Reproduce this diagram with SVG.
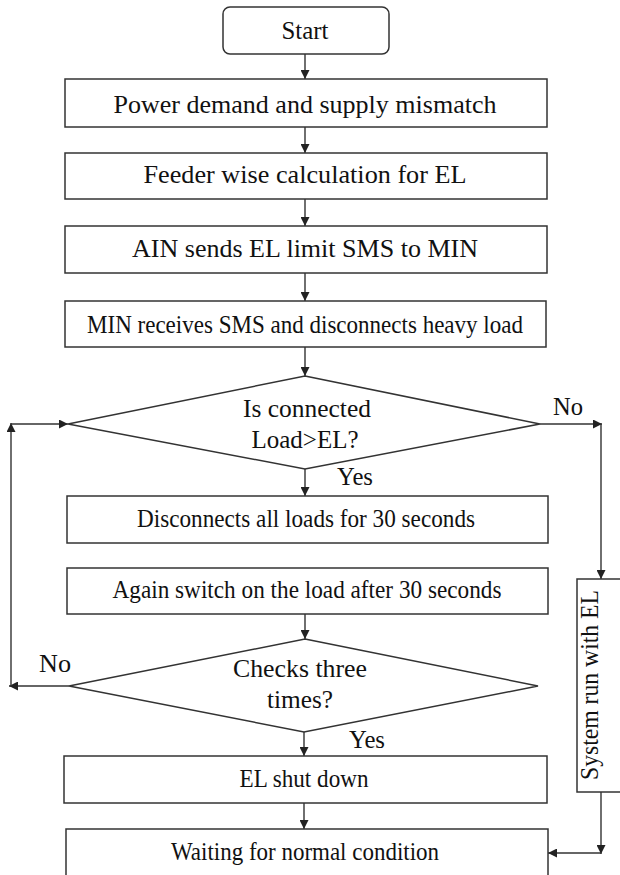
<svg xmlns="http://www.w3.org/2000/svg" width="620" height="875" viewBox="0 0 620 875">
  <style>
    .box { fill: #ffffff; stroke: #333333; stroke-width: 1.5; }
    .lbl { font-family: "Liberation Serif", "Times New Roman", serif; font-size: 26px; fill: #111111; text-anchor: middle; }
    .sm { font-size: 24px; }
    .edge { fill: none; stroke: #333333; stroke-width: 1.4; marker-end: url(#arrow); }
  </style>
  <defs>
    <marker id="arrow" viewBox="0 0 10 10" refX="10" refY="5" markerWidth="10" markerHeight="9" markerUnits="userSpaceOnUse" orient="auto">
      <path d="M0,0 L10,5 L0,10 z" fill="#222222"/>
    </marker>
  </defs>

  <rect x="0" y="0" width="620" height="875" fill="#ffffff"/>

  <g id="connectors">
    <line class="edge" x1="305" y1="54" x2="305" y2="79"/>
    <line class="edge" x1="305" y1="127" x2="305" y2="153"/>
    <line class="edge" x1="305" y1="199" x2="305" y2="226"/>
    <line class="edge" x1="305" y1="273" x2="305" y2="301"/>
    <line class="edge" x1="305" y1="347" x2="305" y2="376"/>
    <line class="edge" x1="305" y1="469" x2="305" y2="496"/>
    <line class="edge" x1="305" y1="614" x2="305" y2="639"/>
    <line class="edge" x1="304" y1="732" x2="304" y2="756"/>
    <line class="edge" x1="304" y1="803" x2="304" y2="829"/>
    <!-- "No" branch to the right column -->
    <line class="edge" x1="540" y1="424" x2="602" y2="424"/>
    <line class="edge" x1="601" y1="424" x2="601" y2="579"/>
    <line class="edge" x1="601" y1="792" x2="601" y2="854"/>
    <line class="edge" x1="601" y1="853" x2="548" y2="853"/>
    <!-- "No" loop back on the left -->
    <line class="edge" x1="69" y1="686" x2="9" y2="686"/>
    <line class="edge" x1="11" y1="686" x2="11" y2="423"/>
    <line class="edge" x1="11" y1="424" x2="68" y2="424"/>
    <text class="lbl" x="568" y="415" textLength="30" lengthAdjust="spacingAndGlyphs">No</text>
    <text class="lbl" x="355" y="485" textLength="36" lengthAdjust="spacingAndGlyphs">Yes</text>
    <text class="lbl" x="55" y="672" textLength="32" lengthAdjust="spacingAndGlyphs">No</text>
    <text class="lbl" x="367" y="748" textLength="36" lengthAdjust="spacingAndGlyphs">Yes</text>
  </g>

  <g id="start">
    <rect class="box" x="223" y="7" width="166" height="47" rx="7"/>
    <text class="lbl" x="305" y="39" textLength="47" lengthAdjust="spacingAndGlyphs">Start</text>
  </g>

  <g id="mismatch">
    <rect class="box" x="65" y="79" width="482" height="48"/>
    <text class="lbl" x="305" y="113" textLength="383" lengthAdjust="spacingAndGlyphs">Power demand and supply mismatch</text>
  </g>

  <g id="feeder-calc">
    <rect class="box" x="65" y="153" width="482" height="46"/>
    <text class="lbl" x="305" y="183" textLength="323" lengthAdjust="spacingAndGlyphs">Feeder wise calculation for EL</text>
  </g>

  <g id="ain-sms">
    <rect class="box" x="65" y="226" width="482" height="47"/>
    <text class="lbl" x="305" y="257" textLength="346" lengthAdjust="spacingAndGlyphs">AIN sends EL limit SMS to MIN</text>
  </g>

  <g id="min-receives">
    <rect class="box" x="65" y="301" width="481" height="46"/>
    <text class="lbl" x="305" y="333" textLength="436" lengthAdjust="spacingAndGlyphs">MIN receives SMS and disconnects heavy load</text>
  </g>

  <g id="decision-load">
    <polygon class="box" points="305,376 540,424 305,469 68,424"/>
    <text class="lbl" x="307" y="417" textLength="128" lengthAdjust="spacingAndGlyphs">Is connected</text>
    <text class="lbl" x="305" y="448" textLength="107" lengthAdjust="spacingAndGlyphs">Load&gt;EL?</text>
  </g>

  <g id="disconnect-all">
    <rect class="box" x="67" y="496" width="481" height="47"/>
    <text class="lbl" x="306" y="527" textLength="338" lengthAdjust="spacingAndGlyphs">Disconnects all loads for 30 seconds</text>
  </g>

  <g id="switch-on">
    <rect class="box" x="67" y="568" width="481" height="46"/>
    <text class="lbl" x="307" y="598" textLength="389" lengthAdjust="spacingAndGlyphs">Again switch on the load after 30 seconds</text>
  </g>

  <g id="decision-checks">
    <polygon class="box" points="305,639 538,686 304,732 69,686"/>
    <text class="lbl" x="300" y="677" textLength="134" lengthAdjust="spacingAndGlyphs">Checks three</text>
    <text class="lbl" x="300" y="708" textLength="66" lengthAdjust="spacingAndGlyphs">times?</text>
  </g>

  <g id="shut-down">
    <rect class="box" x="64" y="756" width="483" height="47"/>
    <text class="lbl" x="304" y="787" textLength="129" lengthAdjust="spacingAndGlyphs">EL shut down</text>
  </g>

  <g id="waiting">
    <rect class="box" x="66" y="829" width="482" height="50"/>
    <text class="lbl" x="305" y="860" textLength="268" lengthAdjust="spacingAndGlyphs">Waiting for normal condition</text>
  </g>

  <g id="system-run">
    <rect class="box" x="577" y="579" width="46" height="213"/>
    <text class="lbl" transform="translate(598,685) rotate(-90)" x="0" y="0" textLength="190" lengthAdjust="spacingAndGlyphs">System run with EL</text>
  </g>
</svg>
